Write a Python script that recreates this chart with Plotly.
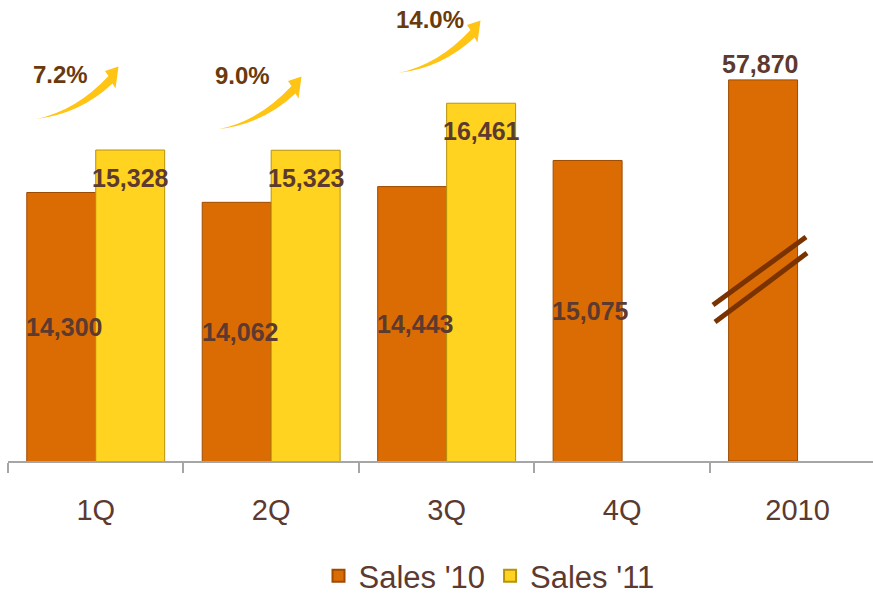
import plotly.graph_objects as go

# Quarterly sales data
categories = ["1Q", "2Q", "3Q", "4Q", "2010"]
quarters = ["1Q", "2Q", "3Q", "4Q"]
sales_10 = [14300, 14062, 14443, 15075]
sales_11 = [15328, 15323, 16461]
total_label = "2010"
total_10 = 57870

ORANGE = "#DA6C03"
ORANGE_EDGE = "#9E4B00"
YELLOW = "#FFD31F"
YELLOW_EDGE = "#B8930A"
LABEL = "#5C3A2F"
PCT = "#6B3A0C"
ARROW = "#FFC414"
BREAK = "#7A3300"

Y_MIN, Y_MAX = 7800, 18960      # main (quarterly) value axis
Y2_MAX = 70000                  # broken axis for the annual total
BAR_W = 0.393

# plot area in pixels (used for decoration placement)
L, R, T, B = 8, 873, 0, 461


def px(xp):
    return (xp - L) / (R - L)


def py(yp):
    return (B - yp) / (B - T)


fig = go.Figure()

fig.add_trace(go.Bar(
    name="Sales '10", x=quarters, y=sales_10,
    offset=-BAR_W, width=BAR_W,
    marker=dict(color=ORANGE, line=dict(color=ORANGE_EDGE, width=1)),
    legendgroup="s10", hoverinfo="skip",
))
fig.add_trace(go.Bar(
    name="Sales '11", x=quarters[:len(sales_11)], y=sales_11,
    offset=0, width=BAR_W,
    marker=dict(color=YELLOW, line=dict(color=YELLOW_EDGE, width=1)),
    legendgroup="s11", hoverinfo="skip",
))
fig.add_trace(go.Bar(
    name="Sales '10", x=[total_label], y=[total_10], yaxis="y2",
    offset=-BAR_W, width=BAR_W, showlegend=False,
    marker=dict(color=ORANGE, line=dict(color=ORANGE_EDGE, width=1)),
    legendgroup="s10", hoverinfo="skip",
))

annotations = []
label_font = dict(family="Liberation Sans, Arial, sans-serif", size=25, color=LABEL)

# value labels: '10 in the middle of the bar, '11 near the top
for i, v in enumerate(sales_10):
    annotations.append(dict(
        x=i - BAR_W / 2, y=(Y_MIN + v) / 2, xref="x", yref="y",
        text=f"<b>{v:,}</b>", showarrow=False, xshift=3, font=label_font,
    ))
for i, v in enumerate(sales_11):
    annotations.append(dict(
        x=i + BAR_W / 2, y=v, xref="x", yref="y", yshift=-28,
        text=f"<b>{v:,}</b>", showarrow=False, font=label_font,
    ))
annotations.append(dict(
    x=categories.index(total_label) - BAR_W / 2, y=total_10, xref="x", yref="y2",
    yshift=16, text=f"<b>{total_10:,}</b>", showarrow=False, xshift=-3, font=label_font,
))

# year-on-year growth with swoosh arrows
growth = [(b / a - 1) * 100 for a, b in zip(sales_10, sales_11)]
pct_pos = [(60, 74), (243, 76), (430, 19)]
arrow_shift = [(0, 0), (183, 10), (362, -46)]

shapes = []


def arrow_path(dx, dy):
    pts = {
        "tail": (36, 119), "uc": (76, 111), "ue": (108.5, 76),
        "hl": (105, 71), "tip": (118.5, 66.5), "hr": (115.5, 88.5),
        "le": (112.5, 83.5), "lc": (80, 114),
    }
    p = {k: (px(x + dx), py(y + dy)) for k, (x, y) in pts.items()}
    f = lambda k: f"{p[k][0]:.5f},{p[k][1]:.5f}"
    return (f"M {f('tail')} Q {f('uc')} {f('ue')} L {f('hl')} L {f('tip')} "
            f"L {f('hr')} L {f('le')} Q {f('lc')} {f('tail')} Z")


for g, (tx, ty), (dx, dy) in zip(growth, pct_pos, arrow_shift):
    shapes.append(dict(type="path", xref="paper", yref="paper",
                       path=arrow_path(dx, dy), fillcolor=ARROW,
                       line=dict(width=0), layer="above"))
    annotations.append(dict(
        x=px(tx), y=py(ty), xref="paper", yref="paper", showarrow=False,
        xanchor="center", yanchor="middle",
        text=f"<b>{g:.1f}%</b>",
        font=dict(family="Liberation Sans, Arial, sans-serif", size=24, color=PCT),
    ))

# axis-break marks on the annual bar
for (x0, y0, x1, y1) in [(713, 305, 806, 237), (715, 322, 807, 253)]:
    shapes.append(dict(type="line", xref="paper", yref="paper",
                       x0=px(x0), y0=py(y0), x1=px(x1), y1=py(y1),
                       line=dict(color=BREAK, width=5), layer="above"))

fig.update_layout(
    width=873, height=596,
    margin=dict(l=L, r=873 - R, t=T, b=596 - B, autoexpand=False),
    paper_bgcolor="white", plot_bgcolor="white",
    barmode="overlay",
    showlegend=True,
    legend=dict(orientation="h", x=px(489), xanchor="center", y=py(603), yanchor="bottom",
                font=dict(family="Liberation Sans, Arial, sans-serif", size=31, color=LABEL),
                itemsizing="constant", bgcolor="rgba(0,0,0,0)"),
    xaxis=dict(
        type="category", categoryorder="array", categoryarray=categories,
        range=[-0.5, 4.43], showline=True, linecolor="#A6A6A6", linewidth=1.5,
        ticks="outside", tickson="boundaries", ticklen=10, tickcolor="#A6A6A6",
        tickwidth=1.5, showgrid=False, zeroline=False, ticklabelstandoff=22,
        automargin=False,
        tickfont=dict(family="Liberation Sans, Arial, sans-serif", size=29, color=LABEL),
    ),
    yaxis=dict(range=[Y_MIN, Y_MAX], visible=False, showgrid=False, zeroline=False),
    yaxis2=dict(range=[0, Y2_MAX], overlaying="y", visible=False,
                showgrid=False, zeroline=False),
    shapes=shapes,
    annotations=annotations,
)

fig.write_html("out.html")
